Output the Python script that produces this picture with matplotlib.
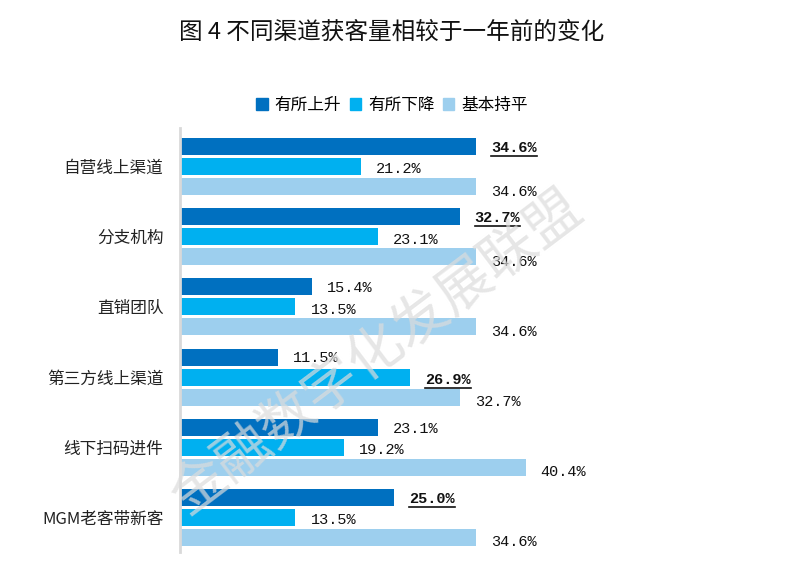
import matplotlib
matplotlib.use('Agg')
import matplotlib.pyplot as plt
import numpy as np
from matplotlib.lines import Line2D

plt.rcParams['font.family'] = ['Noto Sans CJK SC', 'DejaVu Sans']

# 数据
categories = ['自营线上渠道', '分支机构', '直销团队', '第三方线上渠道', '线下扫码进件', 'MGM老客带新客']
series_names = ['有所上升', '有所下降', '基本持平']
up = [34.6, 32.7, 15.4, 11.5, 23.1, 25.0]
down = [21.2, 23.1, 13.5, 26.9, 19.2, 13.5]
flat = [34.6, 34.6, 34.6, 32.7, 40.4, 34.6]
# 加粗+下划线的标签 (系列, 类别)
highlight = [(0, 0), (0, 1), (1, 3), (0, 5)]

colors = ['#0070C0', '#00B0F0', '#9DCFEE']
values = [up, down, flat]

W, H = 792, 565
fig = plt.figure(figsize=(W / 100, H / 100), dpi=100)
# 轴: x=0 在 180px, 每 1% 约 8.555px
x0_px, px_per = 180, 8.555
xmax = 60
ax = fig.add_axes([x0_px / W, (H - 552) / H, xmax * px_per / W, (552 - 128) / H])

y = np.arange(len(categories))
bar_h = 17 / 70
step = 20 / 70
for k, vals in enumerate(values):
    ax.barh(y + (k - 1) * step, vals, height=bar_h, color=colors[k],
            label=series_names[k], zorder=2)

ax.set_xlim(0, xmax)
ax.set_ylim(5.493, -0.55)
ax.set_yticks(y)
ax.set_yticklabels(categories, fontsize=12, color='#222222')
ax.tick_params(axis='y', length=0, pad=12)
ax.set_xticks([])
for s in ['top', 'right', 'bottom']:
    ax.spines[s].set_visible(False)
ax.spines['left'].set_color('#D9D9D9')
ax.spines['left'].set_linewidth(2)

# 数值标签
dx = 15 / px_per
dys = [0.02, 0.04, 0.07]
label_texts = []
for k, vals in enumerate(values):
    for i, v in enumerate(vals):
        bold = (k, i) in highlight
        t = ax.text(v + dx, y[i] + (k - 1) * step + dys[k], f'{v:.1f}%',
                    va='center', ha='left', fontsize=11,
                    family=['Liberation Mono', 'DejaVu Sans Mono'],
                    fontweight='bold' if bold else 'normal', color='#111111', zorder=4)
        if bold:
            label_texts.append(t)

# 标题
fig.text(392 / W, 1 - 32 / H, '图 4 不同渠道获客量相较于一年前的变化',
         ha='center', va='center', fontsize=17, color='#111111')

# 图例
handles = [plt.Rectangle((0, 0), 1, 1, color=c) for c in colors]
fig.legend(handles, series_names, loc='center', bbox_to_anchor=(392 / W, 1 - 105 / H),
           ncol=3, frameon=False, fontsize=12, handlelength=0.7, handleheight=0.7,
           handletextpad=0.4, columnspacing=0.5)

# 水印
fig.text(377 / W, 1 - 352 / H, '金融数字化发展联盟', rotation=37,
         ha='center', va='center', fontsize=40, color='#DCDCDC', alpha=0.7,
         fontweight='light', zorder=10)

# 下划线
fig.canvas.draw()
r = fig.canvas.get_renderer()
for t in label_texts:
    bb = t.get_window_extent(renderer=r)
    yy = (bb.y0 - 1) / H
    fig.add_artist(Line2D([bb.x0 / W, bb.x1 / W], [yy, yy], color='#111111', lw=1.2,
                          transform=fig.transFigure))

fig.savefig('out.png', dpi=100)
